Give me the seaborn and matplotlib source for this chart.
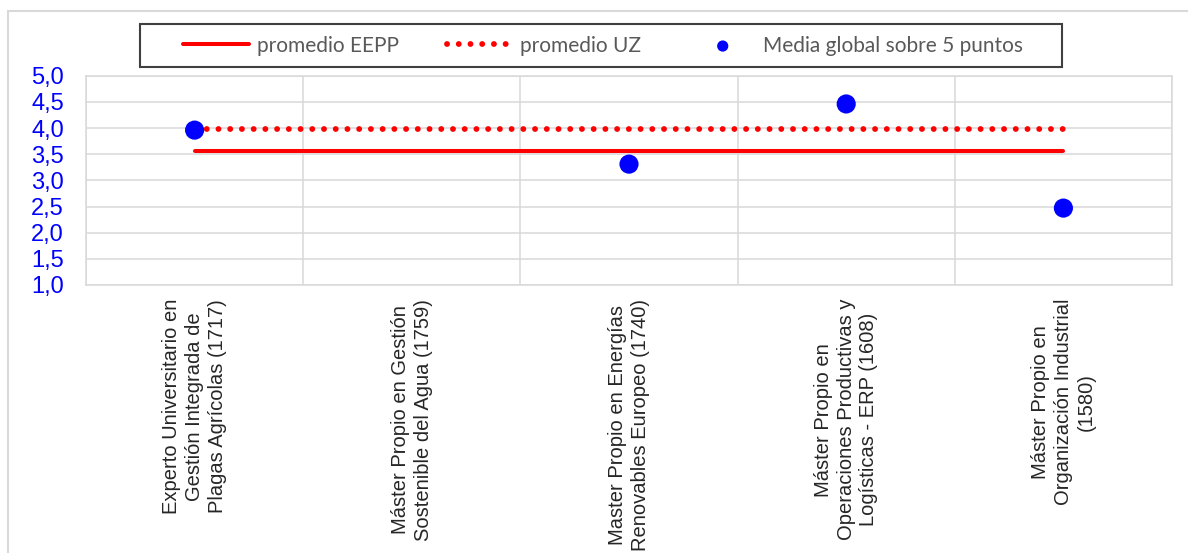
import numpy as np
import pandas as pd
import matplotlib
matplotlib.use('Agg')
import matplotlib.pyplot as plt
import seaborn as sns
from matplotlib.patches import Rectangle
from matplotlib.lines import Line2D
from matplotlib.ticker import FuncFormatter

# datos
programas = [
    'Experto Universitario en\nGestión Integrada de\nPlagas Agrícolas (1717)',
    'Máster Propio en Gestión\nSostenible del Agua (1759)',
    'Master Propio en Energías\nRenovables Europeo (1740)',
    'Máster Propio en\nOperaciones Productivas y\nLogísticas - ERP (1608)',
    'Máster Propio en\nOrganización Industrial\n(1580)',
]
media_global = [3.96, np.nan, 3.31, 4.46, 2.47]
promedio_eepp = [3.57, 3.57, 3.57, 3.57, 3.57]
promedio_uz = [3.98, 3.98, 3.98, 3.98, 3.98]
y_ticks = [1.0, 1.5, 2.0, 2.5, 3.0, 3.5, 4.0, 4.5, 5.0]

df = pd.DataFrame({
    'pos': range(len(programas)),
    'programa': programas,
    'media': media_global,
    'eepp': promedio_eepp,
    'uz': promedio_uz,
})

sns.set_style('white')
plt.rcParams['font.family'] = ['Liberation Sans', 'DejaVu Sans']

W, H = 1188, 553
fig = plt.figure(figsize=(W / 100, H / 100), dpi=100)
ax = fig.add_axes([86 / W, 1 - 285 / H, (1172 - 86) / W, (285 - 75.7) / H])

sns.lineplot(data=df, x='pos', y='eepp', color='#ff0000', lw=2.9,
             label='promedio EEPP', ax=ax, zorder=2)
sns.lineplot(data=df, x='pos', y='uz', color='#ff0000', lw=4.2,
             linestyle=(0, (0.01, 2.0)), dash_capstyle='round',
             label='promedio UZ', ax=ax, zorder=2)
sns.scatterplot(data=df, x='pos', y='media', color='#0000ff', s=190,
                edgecolor='none', label='Media global sobre 5 puntos',
                ax=ax, zorder=3)

# ejes
ax.set_xlim(-0.5, len(programas) - 0.5)
ax.set_ylim(1, 5)
ax.set_yticks(y_ticks)
ax.yaxis.set_major_formatter(FuncFormatter(lambda v, _: f'{v:.1f}'.replace('.', ',')))
ax.tick_params(axis='y', length=0, pad=16, labelcolor='#0000ff', labelsize=17)

ax.set_xticks(df['pos'])
ax.set_xticklabels(programas, rotation=90, ha='center', va='top',
                   multialignment='center', fontsize=14.5, color='#262626',
                   linespacing=1.25)
ax.tick_params(axis='x', length=0, pad=10)
ax.set_xticks(np.arange(-0.5, len(programas), 1), minor=True)
ax.tick_params(which='minor', length=0)
ax.set_xlabel('')
ax.set_ylabel('')

ax.grid(which='minor', axis='x', color='#d9d9d9', lw=1.1)
ax.grid(which='major', axis='y', color='#d9d9d9', lw=1.1)
ax.grid(which='major', axis='x', visible=False)
for s in ax.spines.values():
    s.set_color('#d9d9d9')
    s.set_linewidth(1.1)

# leyenda arriba con caja propia
handles, labels = ax.get_legend_handles_labels()
ax.get_legend().remove()
leg = fig.legend(handles, labels, ncol=3, loc='center',
                 bbox_to_anchor=(603 / W, 1 - 45.5 / H), frameon=False,
                 prop={'family': 'Lato', 'size': 15}, labelcolor='#595959',
                 handlelength=3.2, handletextpad=0.35, columnspacing=2.3)
leg.legend_handles[2].set_sizes([65])

fig.patches.append(Rectangle((140 / W, 1 - 67 / H), 922 / W, 43 / H,
                             transform=fig.transFigure, fill=False,
                             edgecolor='#404040', lw=1.5))

# borde exterior del grafico
fig.lines.append(Line2D([8 / W, 1], [1 - 11 / H, 1 - 11 / H],
                        transform=fig.transFigure, color='#d9d9d9', lw=1.5))
fig.lines.append(Line2D([8 / W, 8 / W], [0, 1 - 11 / H],
                        transform=fig.transFigure, color='#d9d9d9', lw=1.5))

fig.savefig('out.png', dpi=100)
